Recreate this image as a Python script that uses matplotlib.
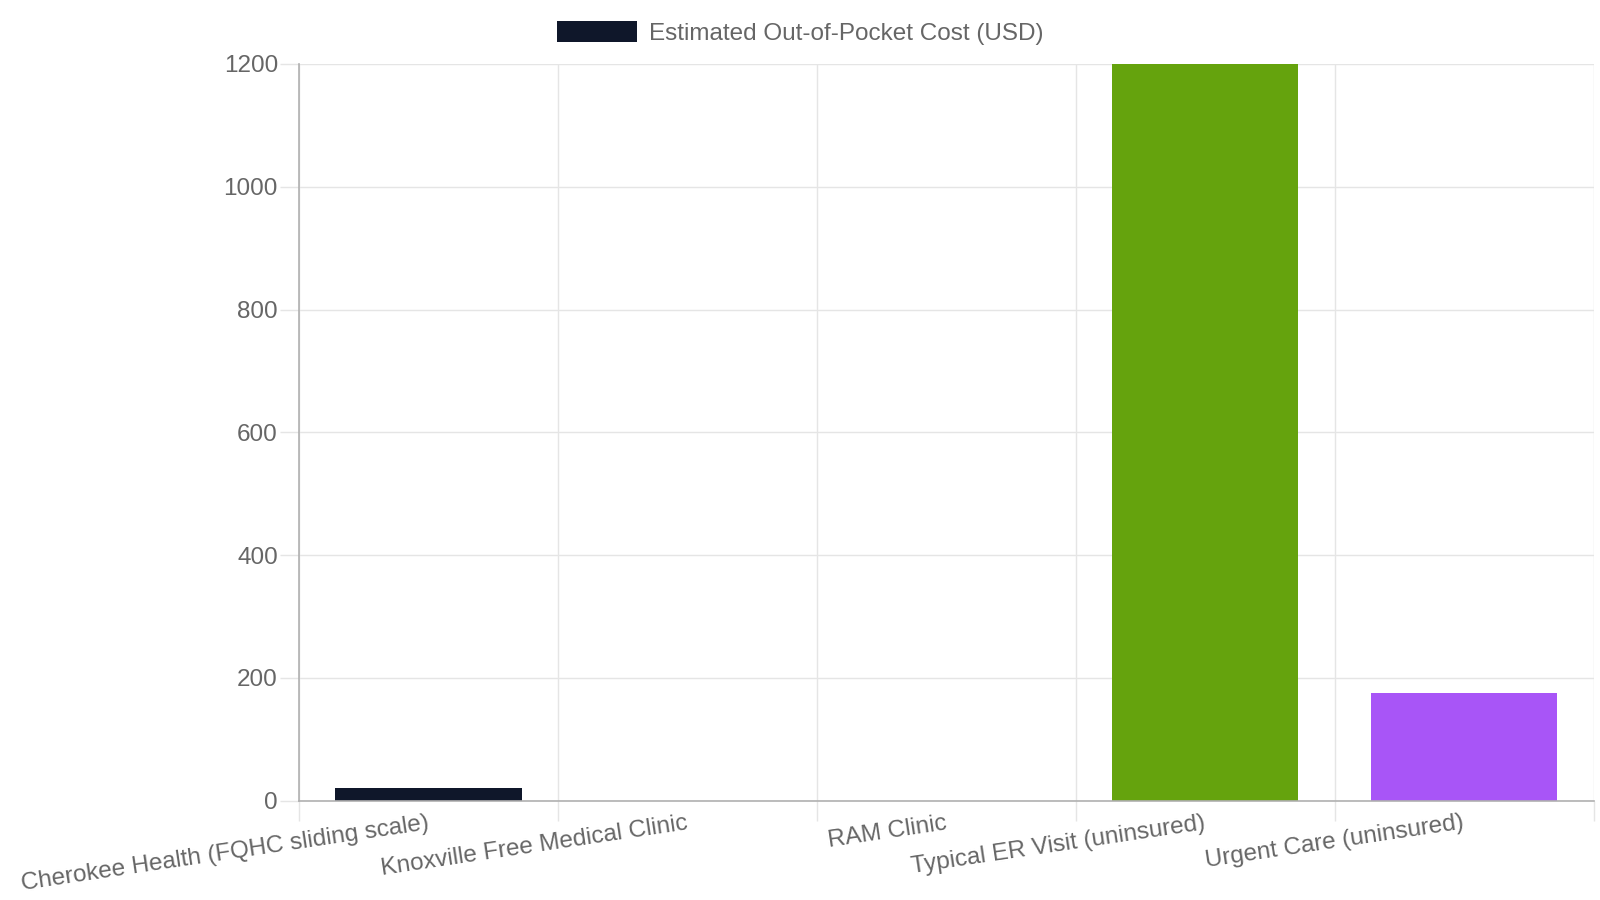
import matplotlib
matplotlib.use("Agg")
import matplotlib.pyplot as plt
from matplotlib.patches import Patch
from matplotlib.ticker import FixedLocator

plt.rcParams['font.family'] = ['Liberation Sans', 'DejaVu Sans']

# data
categories = [
    "Cherokee Health (FQHC sliding scale)",
    "Knoxville Free Medical Clinic",
    "RAM Clinic",
    "Typical ER Visit (uninsured)",
    "Urgent Care (uninsured)",
]
costs = [20, 0, 0, 1200, 175]
bar_colors = ["#0f172a", "#0ea5e9", "#f59e0b", "#65a30d", "#a855f7"]
series_label = "Estimated Out-of-Pocket Cost (USD)"
y_ticks = [0, 200, 400, 600, 800, 1000, 1200]

text_color = "#666666"
grid_color = "#e5e5e5"
axis_color = "#b0b0b0"
fs = 17.5

fig = plt.figure(figsize=(16, 9), dpi=100)
ax = fig.add_axes([299 / 1600, 1 - 800.7 / 900, (1593.5 - 299) / 1600, (800.7 - 64) / 900])

x = list(range(len(categories)))
ax.bar(x, costs, width=0.72, color=bar_colors, linewidth=0, zorder=3)

ax.set_xlim(-0.5, len(categories) - 0.5)
ax.set_ylim(0, 1200)

# y axis
ax.set_yticks(y_ticks)
ax.set_yticklabels([str(v) for v in y_ticks])
ax.tick_params(axis='y', length=13.7, width=1, color=grid_color, pad=1.5,
               labelsize=fs, labelcolor=text_color)
ax.yaxis.get_major_ticks()[0].tick1line.set_color(axis_color)
ax.grid(axis='y', color=grid_color, linewidth=1, zorder=0)

# x axis: labels at centres, grid lines at category boundaries
ax.set_xticks(x)
ax.set_xticklabels(categories, rotation=8.5, ha='right', va='center',
                   rotation_mode='anchor')
ax.tick_params(axis='x', which='major', length=0, pad=16, labelsize=fs,
               labelcolor=text_color)
bounds = [i - 0.5 for i in range(len(categories) + 1)]
ax.xaxis.set_minor_locator(FixedLocator(bounds))
ax.tick_params(axis='x', which='minor', length=14.4, width=1, color=grid_color)
ax.grid(axis='x', which='minor', color=grid_color, linewidth=1, zorder=0)
ax.xaxis.get_minor_ticks()[0].tick1line.set_color(axis_color)

for side in ('top', 'right'):
    ax.spines[side].set_visible(False)
for side in ('left', 'bottom'):
    ax.spines[side].set_color(axis_color)
    ax.spines[side].set_linewidth(1.2)
    ax.spines[side].set_zorder(4)

handle = Patch(facecolor=bar_colors[0], edgecolor='none', label=series_label)
fig.legend(handles=[handle], loc='center', bbox_to_anchor=(0.5, 1 - 33 / 900),
           frameon=False, fontsize=fs, labelcolor=text_color,
           handlelength=3.3, handleheight=0.96, handletextpad=0.5)

fig.savefig("out.png", dpi=100, facecolor='white')
